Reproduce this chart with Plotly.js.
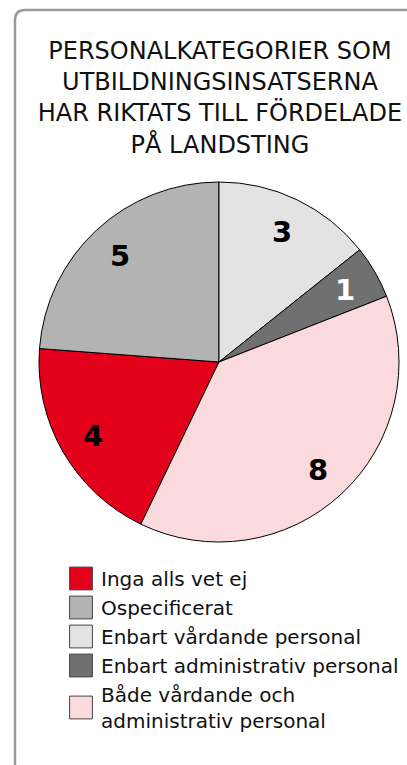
<!DOCTYPE html>
<html>
<head>
<meta charset="utf-8">
<script src="https://cdn.plot.ly/plotly-3.0.1.min.js"></script>
<style>
  html, body { margin: 0; padding: 0; background: #fff; }
  #chart { width: 407px; height: 765px; }
</style>
</head>
<body>
<div id="chart"></div>
<script>
// Data (legend order = slice order, clockwise)
const categories = [
  "Inga alls vet ej",
  "Ospecificerat",
  "Enbart vårdande personal",
  "Enbart administrativ personal",
  "Både vårdande och<br>administrativ personal"
];
const values = [4, 5, 3, 1, 8];
const sliceColors = ["#e2001a", "#b3b3b3", "#e3e3e3", "#707070", "#fadadd"];
const labelColors = ["#000000", "#000000", "#000000", "#ffffff", "#000000"];
const titleText = "PERSONALKATEGORIER SOM<br>UTBILDNINGSINSATSERNA<br>HAR RIKTATS TILL FÖRDELADE<br>PÅ LANDSTING";

const total = values.reduce((a, b) => a + b, 0);
// "Enbart vårdande personal" begins at 12 o'clock
const rotation = -360 * (values[0] + values[1]) / total;

const W = 407, H = 765;
const px = v => v / W, py = v => 1 - v / H;

const dom = { x: [px(39), px(399)], y: [py(542), py(182)] };

const trace = {
  type: "pie",
  labels: categories,
  values: values,
  sort: false,
  direction: "clockwise",
  rotation: rotation,
  marker: { colors: sliceColors, line: { color: "#000000", width: 1 } },
  textinfo: "none",
  domain: dom,
  hoverinfo: "label+value"
};

// value labels placed along each slice's bisector
const cxP = (dom.x[0] + dom.x[1]) / 2, cyP = (dom.y[0] + dom.y[1]) / 2;
const Rpx = Math.min((dom.x[1] - dom.x[0]) * W, (dom.y[1] - dom.y[0]) * H) / 2;
const labelR = 0.81 * Rpx;
let cum = 0;
const annotations = values.map((v, i) => {
  const mid = (rotation + 360 * (cum + v / 2) / total) * Math.PI / 180;
  cum += v;
  return {
    xref: "paper", yref: "paper",
    x: cxP + labelR * Math.sin(mid) / W,
    y: cyP + labelR * Math.cos(mid) / H,
    xanchor: "center", yanchor: "middle", yshift: -1,
    text: String(v), showarrow: false,
    font: { family: "DejaVu Sans, sans-serif", size: 29, weight: "bold", color: labelColors[i] }
  };
});

const layout = {
  width: W, height: H,
  autosize: false,
  margin: { l: 0, r: 0, t: 0, b: 0, pad: 0 },
  paper_bgcolor: "#ffffff",
  title: {
    text: titleText,
    font: { family: "DejaVu Sans, sans-serif", size: 24, color: "#111111" },
    x: px(220), xanchor: "center", xref: "paper",
    y: py(59), yanchor: "top", yref: "paper"
  },
  showlegend: true,
  legend: {
    x: px(61), xanchor: "left",
    y: py(559), yanchor: "top",
    font: { family: "DejaVu Sans, sans-serif", size: 20, color: "#111111" },
    bgcolor: "rgba(0,0,0,0)",
    traceorder: "normal"
  },
  annotations: annotations,
  shapes: [{
    type: "path", xref: "paper", yref: "paper",
    path: `M ${px(15)},${py(780)} L ${px(15)},${py(20)} Q ${px(15)},${py(10)} ${px(25)},${py(10)} L ${px(420)},${py(10)}`,
    line: { color: "#9a9a9a", width: 2.5 },
    fillcolor: "rgba(0,0,0,0)"
  }]
};

Plotly.newPlot("chart", [trace], layout, { displayModeBar: false, staticPlot: true }).then(() => {
  document.querySelectorAll(".legendpie").forEach(p => {
    p.setAttribute("transform", "translate(20,0) scale(1.9)");
    p.style.vectorEffect = "non-scaling-stroke";
    p.style.stroke = "#444444";
    p.style.strokeWidth = "1px";
  });
});
</script>
</body>
</html>
